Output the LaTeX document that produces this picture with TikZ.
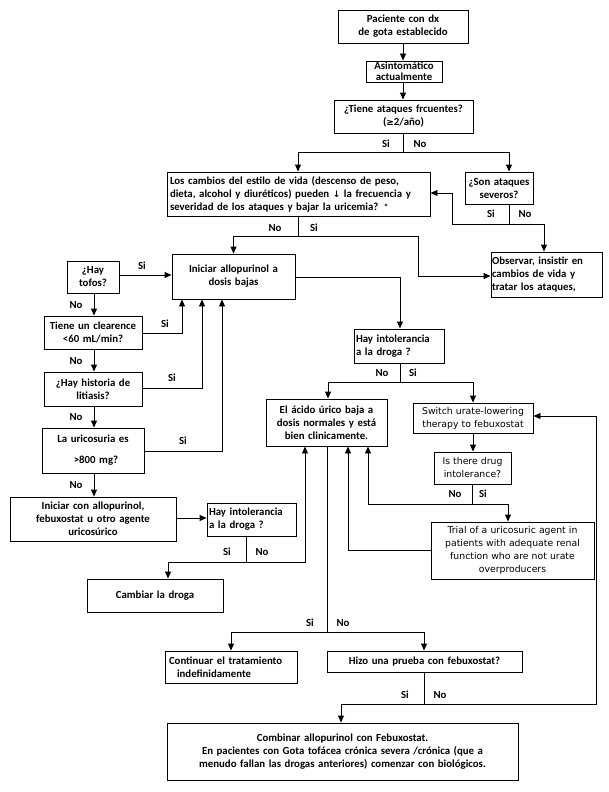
\documentclass[tikz,border=0pt]{standalone}
\usepackage{fontspec}
\setmainfont{Carlito}
\newfontfamily\dv{DejaVu Sans}
\newfontfamily\dvb{DejaVu Sans Bold}
\usetikzlibrary{arrows.meta,calc}
\begin{document}
\begin{tikzpicture}[x=1pt,y=-1pt,line width=0.9pt,
 box/.style={draw,inner xsep=2pt,inner ysep=1pt,font=\bfseries\fontsize{10.8}{13}\selectfont},
 ebox/.style={draw,inner xsep=2pt,inner ysep=1pt,font=\dv\fontsize{9.3}{13}\selectfont,align=center},
 arr/.style={-{Triangle[length=7pt,width=6pt]}},
 lab/.style={font=\bfseries\fontsize{10.8}{12}\selectfont,inner sep=0pt}]
\useasboundingbox (0,0) rectangle (608,792);
% nodes
\node[box,align=center,text width=126,minimum height=33] (p1) at (403,26.5) {Paciente con dx\\de gota establecido};
\node[box,align=center,text width=72,minimum height=21,inner ysep=0pt,font=\bfseries\fontsize{10.8}{11}\selectfont] (asin) at (404,71.5) {Asintomático\\actualmente};
\node[box,align=center,text width=135,minimum height=33] (tiene) at (403.5,116.5) {¿Tiene ataques frcuentes?\\({\dvb\fontsize{9}{11}\selectfont ≥}2/año)};
\node[box,align=left,text width=257,inner xsep=3pt,minimum height=44] (cambios) at (298.5,194) {Los cambios del estilo de vida (descenso de peso,\\dieta, alcohol y diuréticos) pueden {\dvb\fontsize{9}{11}\selectfont ↓} la frecuencia y\\severidad de los ataques y bajar la uricemia? {\fontsize{9}{8}\selectfont *}};
\node[box,align=center,text width=64,minimum height=32] (son) at (499,188) {¿Son ataques\\severos?};
\node[box,align=left,text width=109,inner xsep=1pt,minimum height=45] (obs) at (546.5,274.5) {Observar, insistir en\\cambios de vida y\\tratar los ataques,};
\node[box,align=center,text width=119,minimum height=45] (ini) at (233.5,276.5) {Iniciar allopurinol a\\dosis bajas};
\node[box,align=center,text width=48,minimum height=32] (tofos) at (93,277) {¿Hay\\tofos?};
\node[box,align=center,text width=94,minimum height=33] (clear) at (93,332.5) {Tiene un clearence\\<60 mL/min?};
\node[box,align=center,text width=94,minimum height=34] (lit) at (93,389) {¿Hay historia de\\litiasis?};
\node[box,align=center,text width=98,minimum height=45,font=\bfseries\fontsize{10.8}{21}\selectfont] (uric) at (93,450.5) {La uricosuria es\\\hspace*{6pt}>800 mg?};
\node[box,align=center,text width=162,minimum height=44] (icon) at (93,519) {Iniciar con allopurinol,\\febuxostat u otro agente\\uricosúrico};
\node[box,align=left,text width=85,minimum height=33] (int2) at (251.5,519.5) {Hay intolerancia\\a la droga ?};
\node[box,align=center,text width=132,minimum height=33] (camb) at (155,595.5) {Cambiar la droga};
\node[box,align=left,text width=86,minimum height=34] (int1) at (399,346) {Hay intolerancia\\a la droga ?};
\node[box,align=center,text width=117,minimum height=47] (acido) at (326.5,422.5) {El ácido úrico baja a\\dosis normales y está\\bien clinicamente.};
\node[ebox,text width=116,minimum height=30] (switch) at (473,418) {Switch urate-lowering\\therapy to febuxostat};
\node[ebox,text width=73,minimum height=32] (isthere) at (472.5,468) {Is there drug\\intolerance?};
\node[ebox,text width=159,minimum height=57] (trial) at (512.5,550.5) {Trial of a uricosuric agent in\\patients with adequate renal\\function who are not urate\\overproducers};
\node[box,align=left,text width=124,inner xsep=4pt,minimum height=32] (cont) at (231,667) {Continuar el tratamiento\\\hspace*{8pt}indefinidamente};
\node[box,align=center,text width=191,minimum height=21] (hizo) at (424.5,661.5) {Hizo una prueba con febuxostat?};
\node[box,align=center,text width=347,minimum height=57] (comb) at (342.5,751.5) {Combinar allopurinol con Febuxostat.\\En pacientes con Gota tofácea crónica severa /crónica (que a\\menudo fallan las drogas anteriores) comenzar con biológicos.};
% junction coordinates
\coordinate (j1) at (403,152);
\coordinate (j2) at (509,224);
\coordinate (j3) at (298,236);
\coordinate (j4) at (400,382);
\coordinate (j5) at (472,504);
\coordinate (j6) at (246,562);
\coordinate (j7) at (327,632);
\coordinate (j8) at (424,704);
% connectors
\draw[arr] (p1.south) -- (asin.north -| p1.south);
\draw[arr] (asin.south -| p1.south) -- (tiene.north -| p1.south);
\draw (tiene.south -| j1) -- (j1);
\draw[arr] (j1) -| (cambios.north -| j3);
\draw[arr] (j1) -| (son.north -| j2);
\draw (son.south -| j2) -- (j2);
\draw[arr] (j2) -- (452,224) -- (452,193) -- (cambios.east |- 0,193);
\draw[arr] (j2) -| (obs.north -| 544,0);
\draw (cambios.south -| j3) -- (j3);
\draw[arr] (j3) -| (ini.north);
\draw[arr] (j3) -- (418,236) |- (obs.west |- 0,276);
\draw[arr] (ini.east |- 0,277) -| (int1.north -| j4);
\draw (int1.south -| j4) -- (j4);
\draw[arr] (j4) -| (acido.north -| 328,0);
\draw[arr] (j4) -| (switch.north);
\draw[arr] (switch.south) -- (isthere.north -| switch.south);
\draw (isthere.south -| j5) -- (j5);
\draw[arr] (j5) -| (acido.south -| 368,0);
\draw[arr] (j5) -| (trial.north -| 508,0);
\draw[arr] (trial.west) -| (acido.south -| 348,0);
\draw[arr] (tofos.east |- 0,275) -- (ini.west |- 0,275);
\draw[arr] (tofos.south -| 94,0) -- (clear.north -| 94,0);
\draw[arr] (clear.east |- 0,333) -| (ini.south -| 182,0);
\draw[arr] (clear.south -| 94,0) -- (lit.north -| 94,0);
\draw[arr] (lit.east |- 0,388) -| (ini.south -| 202,0);
\draw[arr] (lit.south -| 94,0) -- (uric.north -| 94,0);
\draw[arr] (uric.east |- 0,451) -| (ini.south -| 222,0);
\draw[arr] (uric.south -| 94,0) -- (icon.north -| 94,0);
\draw[arr] (icon.east |- 0,518) -- (int2.west |- 0,518);
\draw (int2.south -| j6) -- (j6);
\draw[arr] (j6) -| (camb.north -| 168,0);
\draw[arr] (j6) -| (acido.south -| 305,0);
\draw (acido.south -| j7) -- (j7);
\draw[arr] (j7) -| (cont.north);
\draw[arr] (j7) -| (hizo.north -| j8);
\draw (hizo.south -| j8) -- (j8);
\draw[arr] (j8) -| (comb.north -| 341,0);
\draw[arr] (j8) -- (596,704) |- (switch.east |- 0,416);
% labels
\node[lab] at (386,144) {Si}; \node[lab] at (420,144) {No};
\node[lab] at (491,214) {Si}; \node[lab] at (525,214) {No};
\node[lab] at (275,228) {No}; \node[lab] at (314,228) {Si};
\node[lab] at (382,373) {No}; \node[lab] at (413,373) {Si};
\node[lab] at (455,494) {No}; \node[lab] at (483,494) {Si};
\node[lab] at (227,552) {Si}; \node[lab] at (262,552) {No};
\node[lab] at (310,623) {Si}; \node[lab] at (343,623) {No};
\node[lab] at (405,695) {Si}; \node[lab] at (440,695) {No};
\node[lab] at (142,266) {Si};
\node[lab] at (76,305) {No};
\node[lab] at (165,324) {Si};
\node[lab] at (76,361) {No};
\node[lab] at (172,378) {Si};
\node[lab] at (76,417) {No};
\node[lab] at (183,441) {Si};
\node[lab] at (76,485) {No};
\end{tikzpicture}
\end{document}
